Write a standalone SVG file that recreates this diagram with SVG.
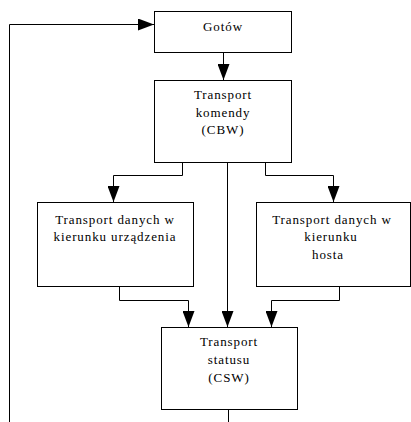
<svg xmlns="http://www.w3.org/2000/svg" width="411" height="422" viewBox="0 0 411 422">
<style>
.box{fill:#fff;stroke:#000;stroke-width:1}
.ln{fill:none;stroke:#000;stroke-width:1}
text{font-family:"Liberation Serif","Times New Roman",serif;font-size:13px;fill:#000;text-anchor:middle;letter-spacing:0.9px}
</style>
<defs>
<marker id="ah" markerUnits="userSpaceOnUse" markerWidth="17" markerHeight="12" refX="16" refY="6" orient="auto">
<path d="M0,0 L16,6 L0,12 Z" fill="#000"/>
</marker>
</defs>
<rect width="411" height="422" fill="#fff"/>
<g id="connectors">
<path class="ln" d="M9.5,422 V24.5 H154" marker-end="url(#ah)"/>
<path class="ln" d="M223.5,52 V80" marker-end="url(#ah)"/>
<path class="ln" d="M182.5,162 V175.5 H113.5 V202" marker-end="url(#ah)"/>
<path class="ln" d="M265.5,162 V175.5 H333.5 V202" marker-end="url(#ah)"/>
<path class="ln" d="M227.5,162 V327" marker-end="url(#ah)"/>
<path class="ln" d="M119.5,286 V300.5 H188.5 V327" marker-end="url(#ah)"/>
<path class="ln" d="M339.5,286 V300.5 H271.5 V327" marker-end="url(#ah)"/>
<path class="ln" d="M228.5,409 V422"/>
</g>
<g id="gotow">
<rect class="box" x="154.5" y="11.5" width="137" height="41"/>
<text x="223" y="31">Gotów</text>
</g>
<g id="cbw">
<rect class="box" x="154.5" y="80.5" width="137" height="82"/>
<text x="223" y="99">Transport</text>
<text x="223" y="117">komendy</text>
<text x="223" y="134">(CBW)</text>
</g>
<g id="out">
<rect class="box" x="37.5" y="202.5" width="156" height="84"/>
<text x="115" y="224">Transport danych w</text>
<text x="115" y="241">kierunku urządzenia</text>
</g>
<g id="in">
<rect class="box" x="256.5" y="202.5" width="154" height="84"/>
<text x="332" y="224">Transport danych w</text>
<text x="331" y="241">kierunku</text>
<text x="328" y="259">hosta</text>
</g>
<g id="csw">
<rect class="box" x="161.5" y="327.5" width="136" height="82"/>
<text x="229" y="346">Transport</text>
<text x="229" y="364">statusu</text>
<text x="229" y="382">(CSW)</text>
</g>
</svg>
